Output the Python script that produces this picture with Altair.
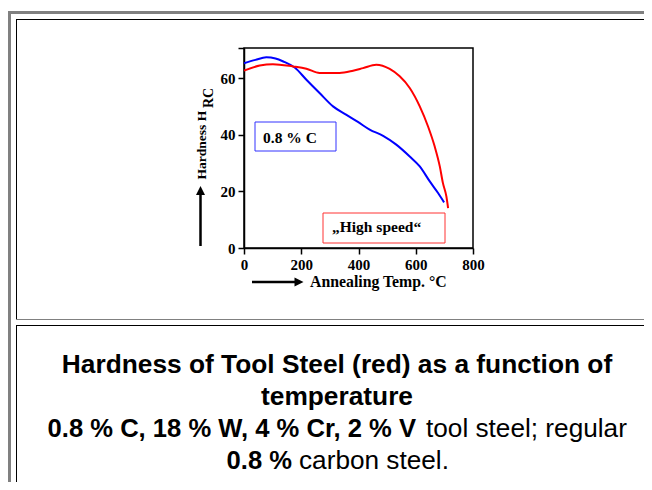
import altair as alt
import pandas as pd

# ---- data ----
temp_carbon = [0, 40, 78, 110, 140, 177, 218, 264, 311, 358, 398, 439, 486, 532, 579, 614, 649, 678, 699]
hrc_carbon = [65.2, 66.4, 67.3, 66.9, 65.7, 63.7, 59.4, 54.7, 50.0, 47.0, 44.5, 41.8, 39.6, 36.5, 32.3, 28.8, 23.5, 19.4, 16.1]
temp_hs = [0, 55, 101, 171, 218, 264, 300, 334, 381, 416, 462, 509, 544, 579, 614, 643, 666, 684, 695, 707, 713]
hrc_hs = [62.6, 64.4, 64.9, 64.1, 63.3, 61.8, 61.8, 61.8, 62.6, 63.5, 64.7, 63.2, 60.6, 56.5, 50.0, 42.9, 35.9, 28.8, 22.9, 18.2, 14.1]
series_names = ["0.8 % C", "\u201eHigh speed\u201c"]
series_colors = ["#0000ff", "#ff0000"]
x_ticks = [0, 200, 400, 600, 800]
y_ticks = [0, 20, 40, 60, 70.6]
x_domain = [0, 800]
y_domain = [0, 70.6]

caption_1 = "Hardness of Tool Steel (red) as a function of"
caption_2 = "temperature"
caption_3_bold = "0.8 % C, 18 % W, 4 % Cr, 2 % V"
caption_3_reg = "tool steel; regular"
caption_4_bold = "0.8 %"
caption_4_reg = "carbon steel."

df = pd.concat([
    pd.DataFrame({"temp": temp_carbon, "hrc": hrc_carbon, "series": series_names[0], "o": range(len(temp_carbon))}),
    pd.DataFrame({"temp": temp_hs, "hrc": hrc_hs, "series": series_names[1], "o": range(len(temp_hs))}),
])

one = pd.DataFrame({"k": [0]})
SERIF = "Liberation Serif"
SANS = "Liberation Sans"
GRAY = "#808080"

axis_common = dict(
    labelFont=SERIF, labelFontWeight="bold", labelFontSize=15, labelColor="black",
    tickColor="black", domainColor="black", domainWidth=1.5, tickWidth=1.5,
    grid=False, title=None, tickSize=6, labelFlush=False, labelOverlap=False,
)

lines = alt.Chart(df).mark_line(strokeWidth=2, interpolate="monotone").encode(
    x=alt.X("temp:Q", scale=alt.Scale(domain=x_domain, nice=False, zero=False),
            axis=alt.Axis(values=x_ticks, labelPadding=3, **axis_common)),
    y=alt.Y("hrc:Q", scale=alt.Scale(domain=y_domain, nice=False, zero=False),
            axis=alt.Axis(values=y_ticks, labelPadding=3,
                          labelExpr="datum.value > 65 ? '' : datum.label", **axis_common)),
    color=alt.Color("series:N", scale=alt.Scale(domain=series_names, range=series_colors), legend=None),
    order="o:Q",
)


def hrule(x1, x2, y, color, w):
    return alt.Chart(one).mark_rule(color=color, strokeWidth=w).encode(
        x=alt.value(x1), x2=alt.value(x2), y=alt.value(y))


def vrule(x, y1, y2, color, w):
    return alt.Chart(one).mark_rule(color=color, strokeWidth=w).encode(
        x=alt.value(x), y=alt.value(y1), y2=alt.value(y2))


def label(text, x, y, font, size, weight="bold", align="left", angle=0, color="black"):
    kw = dict(text=text, font=font, fontSize=size, fontWeight=weight, align=align,
              baseline="alphabetic", color=color)
    if angle:
        kw["angle"] = angle
    return alt.Chart(one).mark_text(**kw).encode(x=alt.value(x), y=alt.value(y))


def box(x1, x2, y1, y2, color):
    return alt.Chart(one).mark_rect(fillOpacity=0, stroke=color, strokeWidth=1).encode(
        x=alt.value(x1), x2=alt.value(x2), y=alt.value(y1), y2=alt.value(y2))


def marker(x, y, shape, size):
    return alt.Chart(one).mark_point(shape=shape, size=size, filled=True, color="black", opacity=1).encode(
        x=alt.value(x), y=alt.value(y))


decor = [
    # page frame (table borders)
    vrule(-234.5, -37, 460, GRAY, 3),
    hrule(-236, 420, -35.5, GRAY, 3),
    hrule(-228, 420, -28.5, "black", 1),
    vrule(-227.5, -29, 271, "black", 1),
    hrule(-228, 420, 271.5, GRAY, 1),
    hrule(-228, 420, 277.5, "black", 1),
    vrule(-227.5, 277, 460, "black", 1),
    # axis arrows
    vrule(-43.5, 198, 145, "black", 2.5),
    marker(-43.5, 142.5, "M0,-1L1,1L-1,1Z", 81),
    hrule(8, 52, 234, "black", 2.5),
    marker(55, 234, "M1,0L-1,-1L-1,1Z", 81),
    # axis titles
    label("Hardness H", -38, 131.5, SERIF, 13.5, angle=270),
    label("RC", -31, 60, SERIF, 14, angle=270),
    label("Annealing Temp. \u00b0C", 66, 238.5, SERIF, 15.8),
    # in-plot labels
    box(11, 92, 74, 103, "#3333ff"),
    label(series_names[0], 19, 94.5, SERIF, 15.5),
    box(79, 201, 165, 195, "#ff3333"),
    label(series_names[1], 88, 183.5, SERIF, 15.5),
    # caption
    label(caption_1, 93, 324.7, SANS, 26.3, align="center"),
    label(caption_2, 93, 356.7, SANS, 26.3, align="center"),
    label(caption_3_bold, 172, 388.7, SANS, 25.6, align="right"),
    label(caption_3_reg, 182, 388.7, SANS, 26.2, weight="normal"),
    label(caption_4_bold, 48, 420.7, SANS, 25.6, align="right"),
    label(caption_4_reg, 55, 420.7, SANS, 26.2, weight="normal"),
]

chart = alt.layer(lines, *decor).properties(
    width=229, height=200,
    autosize=alt.AutoSizeParams(type="none"),
    padding={"left": 236, "top": 40, "right": 171, "bottom": 234},
    background="white",
).configure_view(stroke="black", strokeWidth=1.5)

chart.save("out.html", embed_options={"renderer": "svg", "actions": False})
